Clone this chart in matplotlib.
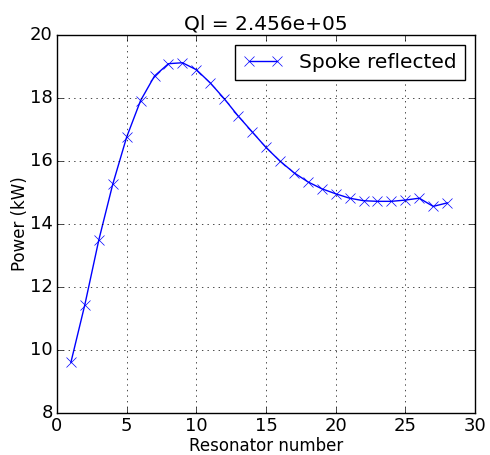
import matplotlib
matplotlib.use("Agg")
import matplotlib.pyplot as plt

resonator = list(range(1, 29))
power = [9.61, 11.44, 13.49, 15.26, 16.76, 17.92, 18.70, 19.09, 19.12, 18.90,
         18.48, 17.98, 17.43, 16.93, 16.43, 16.00, 15.63, 15.34, 15.12, 14.96,
         14.82, 14.74, 14.72, 14.72, 14.76, 14.82, 14.56, 14.67]

plt.style.use('classic')
fig = plt.figure(figsize=(4.9, 4.55), dpi=100, facecolor='white')
ax = fig.add_axes([0.1163, 0.0923, 0.8531, 0.8307])
ax.plot(resonator, power, color='b', marker='x', markersize=7, label='Spoke reflected')
ax.set_xlim(0, 30)
ax.set_ylim(8, 20)
ax.set_xticks(range(0, 31, 5))
ax.set_yticks(range(8, 21, 2))
ax.grid(True)
ax.set_xlabel('Resonator number', fontsize=12, labelpad=1)
ax.set_ylabel('Power (kW)', fontsize=12, labelpad=1)
ax.set_title('Ql = 2.456e+05', fontsize=14.5, pad=4)
ax.tick_params(labelsize=13, pad=3)
ax.legend(loc='upper right', fontsize=14.5, numpoints=2)
fig.savefig('out.png', dpi=100, facecolor='white')
